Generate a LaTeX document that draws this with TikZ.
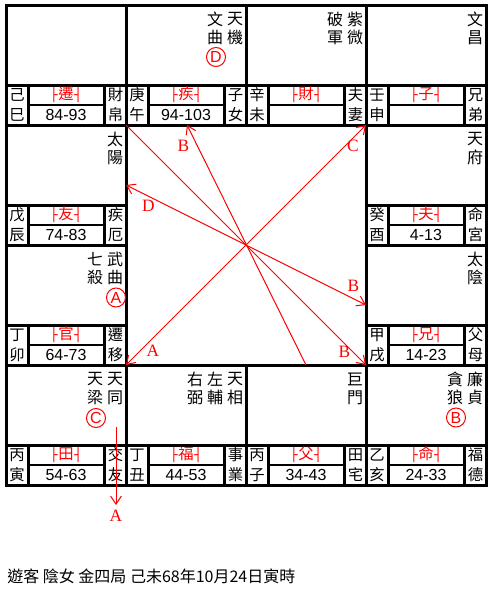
\documentclass[tikz,border=0pt]{standalone}
\usepackage{fontspec}
\setmainfont{Liberation Sans}
\newfontfamily\cjk{Noto Sans CJK TC}
\newfontfamily\abc{Liberation Serif}
\newfontfamily\boxf{DejaVu Sans Mono}
\usetikzlibrary{arrows.meta}

\tikzset{
  grid line/.style={line width=2.25pt},
  mid line/.style={line width=1.5pt},
  star/.style={font=\cjk\fontsize{12}{12}\selectfont,inner sep=0pt},
  branch/.style={font=\cjk\fontsize{11.5}{12}\selectfont,inner sep=0pt},
  gong/.style={font=\cjk\fontsize{11.5}{12}\selectfont,text=red,inner sep=0pt},
  age/.style={font=\fontsize{12}{12}\selectfont,inner sep=0pt},
  hua/.style={draw=red,circle,line width=0.75pt,minimum size=14.25pt,inner sep=0pt,
    text=red,font=\fontsize{12}{12}\selectfont},
  flow/.style={red,line width=0.75pt},
  flow label/.style={text=red,font=\abc\fontsize{13}{13}\selectfont,inner sep=0pt},
}

% one palace: X, Y, stem, branch, red palace, ages, name (2 chars)
\newcommand{\palace}[8]{%
  \draw[grid line] (#1,#2) rectangle ++(120,120);
  \draw[grid line] (#1,#2+80) -- ++(120,0)
    (#1+22,#2+80) -- ++(0,40) (#1+98,#2+80) -- ++(0,40);
  \draw[mid line] (#1+22,#2+100) -- (#1+98,#2+100);
  \node[branch] (gan-#1-#2) at (#1+11,#2+90) {#3};
  \node[branch] (zhi-#1-#2) at (#1+11,#2+110) {#4};
  \node[gong] (gong-#1-#2) at (#1+60,#2+90)
    {{\boxf\fontsize{9.5}{10}\selectfont├}\kern0.5pt#5\kern0.5pt{\boxf\fontsize{9.5}{10}\selectfont┤}};
  \node[age] (age-#1-#2) at (#1+60,#2+110) {#6};
  \node[branch] (nm-#1-#2-a) at (#1+109.5,#2+90) {#7};
  \node[branch] (nm-#1-#2-b) at (#1+109.5,#2+110) {#8};
}
% star columns, right to left
\newcommand{\stars}[3]{%
  \foreach \a/\b [count=\k from 0] in {#3}{
    \node[star] (st-#1-#2-\k a) at (#1+109-20*\k,#2+14.5) {\a};
    \node[star] (st-#1-#2-\k b) at (#1+109-20*\k,#2+32.5) {\b};
  }}

\begin{document}
\begin{tikzpicture}[x=0.75pt,y=-0.75pt,>={Straight Barb[length=6pt,width=8pt]}]
  \useasboundingbox (0,0) rectangle (493,589);
  % palaces
  \palace{6}{5}{己}{巳}{遷}{84-93}{財}{帛}
  \palace{126}{5}{庚}{午}{疾}{94-103}{子}{女}
  \palace{246}{5}{辛}{未}{財}{}{夫}{妻}
  \palace{366}{5}{壬}{申}{子}{}{兄}{弟}
  \palace{6}{125}{戊}{辰}{友}{74-83}{疾}{厄}
  \palace{366}{125}{癸}{酉}{夫}{4-13}{命}{宮}
  \palace{6}{245}{丁}{卯}{官}{64-73}{遷}{移}
  \palace{366}{245}{甲}{戌}{兄}{14-23}{父}{母}
  \palace{6}{365}{丙}{寅}{田}{54-63}{交}{友}
  \palace{126}{365}{丁}{丑}{福}{44-53}{事}{業}
  \palace{246}{365}{丙}{子}{父}{34-43}{田}{宅}
  \palace{366}{365}{乙}{亥}{命}{24-33}{福}{德}
  % stars
  \stars{126}{5}{天/機,文/曲}
  \stars{246}{5}{紫/微,破/軍}
  \stars{366}{5}{文/昌}
  \stars{6}{125}{太/陽}
  \stars{366}{125}{天/府}
  \stars{6}{245}{武/曲,七/殺}
  \stars{366}{245}{太/陰}
  \stars{6}{365}{天/同,天/梁}
  \stars{126}{365}{天/相,左/輔,右/弼}
  \stars{246}{365}{巨/門}
  \stars{366}{365}{廉/貞,貪/狼}
  \node[hua] (hua-d) at (216,57) {D};
  \node[hua] (hua-a) at (116,297.5) {A};
  \node[hua] (hua-c) at (96,418) {C};
  \node[hua] (hua-b) at (456,417.5) {B};
  % arrows
  \coordinate (tl) at (126,125); \coordinate (br) at (366,365);
  \coordinate (tr) at (366,125); \coordinate (bl) at (126,365);
  \coordinate (bT) at (187,125); \coordinate (bB) at (306,365);
  \coordinate (dL) at (126,185); \coordinate (bR) at (366,305);
  \coordinate (aTop) at (116,427); \coordinate (aBot) at (116,505);
  \draw[flow,->] (tl) -- (br);
  \draw[flow,->] (bB) -- (bT);
  \draw[flow,<->] (dL) -- (bR);
  \draw[flow,<->] (bl) -- (tr);
  \draw[flow,->] (aTop) -- (aBot);
  \node[flow label] (lb-b1) at (183.5,146) {B};
  \node[flow label] (lb-d) at (148.5,206) {D};
  \node[flow label] (lb-c) at (353,146) {C};
  \node[flow label] (lb-a1) at (153,351) {A};
  \node[flow label] (lb-b2) at (353.5,286) {B};
  \node[flow label] (lb-b3) at (344.5,351.5) {B};
  \node[flow label] (lb-a2) at (116,516) {A};
  % footer
  \node[anchor=west,font=\cjk\fontsize{12}{13}\selectfont,inner sep=0pt] (info)
    at (7,576.5) {遊客 陰女 金四局 己未68年10月24日寅時};
\end{tikzpicture}
\end{document}
